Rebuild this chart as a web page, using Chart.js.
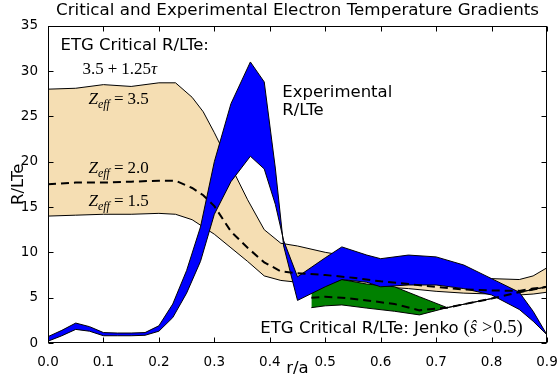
<!DOCTYPE html>
<html>
<head>
<meta charset="utf-8">
<script src="https://cdn.jsdelivr.net/npm/chart.js@4"></script>
<style>
  html, body { margin: 0; padding: 0; background: #fff; }
</style>
</head>
<body>
<canvas id="rlte" width="558" height="383"></canvas>
<script>
// experimental R/LTe band (two edges that cross near r/a = 0.44)
var expX = [0, 0.025, 0.05, 0.075, 0.1, 0.125, 0.15, 0.175, 0.2, 0.225, 0.25, 0.275, 0.3, 0.33, 0.365, 0.39, 0.41, 0.425, 0.45, 0.5, 0.53, 0.575, 0.6, 0.65, 0.7, 0.75, 0.8, 0.85, 0.875, 0.9];
var expOuter = [0.7, 1.4, 2.2, 1.8, 1.15, 1.1, 1.1, 1.15, 1.9, 4.3, 8.0, 12.8, 20.0, 26.4, 31.0, 28.8, 19.3, 10.7, 4.7, 6.2, 7.0, 6.7, 6.2, 6.4, 6.4, 6.0, 5.3, 3.7, 2.4, 0.9];
var expInner = [0.2, 0.8, 1.5, 1.3, 0.8, 0.8, 0.8, 0.85, 1.3, 2.8, 5.5, 9.0, 14.2, 17.8, 20.6, 19.2, 15.3, 11.3, 7.3, 9.4, 10.6, 9.7, 9.3, 9.7, 9.5, 8.6, 7.1, 5.6, 3.5, 0.9];

// ETG critical 3.5 + 1.25 tau for three Zeff values
var critX = [0, 0.05, 0.1, 0.15, 0.2, 0.23, 0.26, 0.28, 0.3, 0.33, 0.36, 0.39, 0.42, 0.45, 0.5, 0.55, 0.6, 0.65, 0.7, 0.75, 0.8, 0.85, 0.875, 0.9];
var zeff35 = [28.0, 28.1, 28.5, 28.3, 28.7, 28.7, 27.1, 25.5, 23.2, 19.5, 15.8, 12.5, 11.0, 10.7, 10.0, 9.5, 9.0, 8.5, 8.0, 7.5, 7.1, 7.0, 7.4, 8.3];
var zeff20 = [17.5, 17.7, 17.7, 17.8, 17.9, 17.9, 17.1, 16.3, 15.1, 12.3, 10.5, 8.9, 7.9, 7.7, 7.5, 7.2, 6.8, 6.5, 6.2, 5.9, 5.8, 5.75, 6.0, 6.2];
var zeff15 = [14.0, 14.1, 14.2, 14.2, 14.3, 14.2, 13.6, 12.8, 12.0, 10.5, 9.0, 7.4, 6.9, 6.7, 6.5, 6.4, 6.2, 6.0, 5.7, 5.5, 5.4, 5.3, 5.4, 5.6];

// Jenko critical gradient (s-hat > 0.5)
var jenkoX = [0.475, 0.5, 0.53, 0.575, 0.625, 0.67, 0.72, 0.8, 0.85, 0.9];
var jenkoHigh = [5.6, 6.4, 7.0, 6.5, 6.2, 5.1, 3.9, 4.9, 5.6, 6.2];
var jenkoLow = [3.9, 4.1, 4.2, 3.85, 3.5, 3.1, 3.9, 4.9, 5.6, 6.2];
var jenkoMid = [5.0, 5.1, 5.0, 4.7, 4.3, 3.6, 3.9, 4.9, 5.6, 6.2];

var xTicks = [0, 0.1, 0.2, 0.3, 0.4, 0.5, 0.6, 0.7, 0.8, 0.9];
var yTicks = [0, 5, 10, 15, 20, 25, 30, 35];

function pts(xs, ys) {
  return xs.map(function (x, i) { return { x: x, y: ys[i] }; });
}

var sans = '16.5px "DejaVu Sans"';
var serif = '17px "Liberation Serif"';
var serifIt = 'italic 17px "Liberation Serif"';
var subIt = 'italic 12px "Liberation Serif"';
var mathBig = '18.5px "Liberation Serif"';
var mathBigIt = 'italic 18.5px "Liberation Serif"';

function runs(ctx, x, y, list) {
  list.forEach(function (r) {
    ctx.font = r.f;
    ctx.fillText(r.t, x, y + (r.dy || 0));
    x += ctx.measureText(r.t).width + (r.sp || 0);
  });
}

function zeffLabel(val) {
  return [
    { t: 'Z', f: serifIt },
    { t: 'eff', f: subIt, dy: 4, sp: 4 },
    { t: '=', f: serif, sp: 4 },
    { t: val, f: serif }
  ];
}

var extras = {
  id: 'extras',
  afterDatasetsDraw: function (chart) {
    var ctx = chart.ctx, xs = chart.scales.x, ys = chart.scales.y;
    function px(v) { return xs.getPixelForValue(v); }
    function py(v) { return ys.getPixelForValue(v); }
    ctx.save();
    ctx.fillStyle = '#000';
    ctx.textBaseline = 'alphabetic';
    ctx.textAlign = 'left';
    runs(ctx, px(0.0225), py(32.3), [{ t: 'ETG Critical R/LTe:', f: sans }]);
    runs(ctx, px(0.062), py(29.7), [
      { t: '3.5', f: serif, sp: 4 },
      { t: '+', f: serif, sp: 4 },
      { t: '1.25', f: serif },
      { t: 'τ', f: serifIt }
    ]);
    runs(ctx, px(0.073), py(26.4), zeffLabel('3.5'));
    runs(ctx, px(0.073), py(18.8), zeffLabel('2.0'));
    runs(ctx, px(0.073), py(15.1), zeffLabel('1.5'));
    runs(ctx, px(0.4225), py(27.15), [{ t: 'Experimental', f: sans }]);
    runs(ctx, px(0.4225), py(25.2), [{ t: 'R/LTe', f: sans }]);
    runs(ctx, px(0.383), py(1.1), [
      { t: 'ETG Critical R/LTe: Jenko', f: sans, sp: 5 },
      { t: '(', f: mathBig },
      { t: 'ŝ', f: mathBigIt, sp: 5 },
      { t: '>', f: mathBig, sp: 1 },
      { t: '0.5)', f: mathBig }
    ]);
    ctx.restore();
  },
  afterDraw: function (chart) {
    var ctx = chart.ctx, a = chart.chartArea, xs = chart.scales.x, ys = chart.scales.y;
    var L = Math.round(a.left) + 0.5, R = Math.round(a.right) - 0.5;
    var T = Math.round(a.top) + 0.5, B = Math.round(a.bottom) - 0.5;
    ctx.save();
    ctx.strokeStyle = '#000';
    ctx.lineWidth = 1;
    ctx.beginPath();
    xTicks.forEach(function (v) {
      var x = Math.round(xs.getPixelForValue(v)) + 0.5;
      ctx.moveTo(x, B); ctx.lineTo(x, B - 5);
      ctx.moveTo(x, T); ctx.lineTo(x, T + 5);
    });
    yTicks.forEach(function (v) {
      var y = Math.round(ys.getPixelForValue(v)) + 0.5;
      ctx.moveTo(L, y); ctx.lineTo(L + 5, y);
      ctx.moveTo(R, y); ctx.lineTo(R - 5, y);
    });
    ctx.stroke();
    ctx.strokeRect(L, T, R - L, B - T);
    ctx.restore();
  }
};

var tickFont = { family: 'DejaVu Sans', size: 13.5 };
var titleFont = { family: 'DejaVu Sans', size: 16.7, weight: 'normal', lineHeight: 1 };
var axisFont = { family: 'DejaVu Sans', size: 16.5, weight: 'normal', lineHeight: 1 };

var ctx = document.getElementById('rlte').getContext('2d');
var chart = new Chart(ctx, {
  type: 'line',
  data: {
    datasets: [
      { label: 'Jenko', data: pts(jenkoX, jenkoMid), borderColor: '#000', borderWidth: 2, borderDash: [8, 5], fill: false },
      { label: 'Zeff=2.0', data: pts(critX, zeff20), borderColor: '#000', borderWidth: 2, borderDash: [8, 5], fill: false },
      { label: 'Experimental outer', data: pts(expX, expOuter), borderColor: '#000', borderWidth: 1, fill: false },
      { label: 'Experimental inner', data: pts(expX, expInner), borderColor: '#000', borderWidth: 1, backgroundColor: '#0000ff', fill: '-1' },
      { label: 'Jenko high', data: pts(jenkoX, jenkoHigh), borderColor: '#000', borderWidth: 1, fill: false },
      { label: 'Jenko low', data: pts(jenkoX, jenkoLow), borderColor: '#000', borderWidth: 1, backgroundColor: '#008000', fill: '-1' },
      { label: 'Zeff=3.5', data: pts(critX, zeff35), borderColor: '#000', borderWidth: 1, fill: false },
      { label: 'Zeff=1.5', data: pts(critX, zeff15), borderColor: '#000', borderWidth: 1, backgroundColor: '#f5deb3', fill: '-1' }
    ]
  },
  options: {
    responsive: false,
    animation: false,
    devicePixelRatio: 1,
    layout: { padding: { left: 0, right: 11, top: 0, bottom: 0 } },
    elements: { point: { radius: 0 }, line: { tension: 0 } },
    plugins: {
      legend: { display: false },
      tooltip: { enabled: false },
      title: {
        display: true,
        text: 'Critical and Experimental Electron Temperature Gradients',
        font: titleFont,
        color: '#000',
        fullSize: false,
        padding: { top: 2, bottom: 7 }
      }
    },
    scales: {
      x: {
        type: 'linear',
        min: 0,
        max: 0.9,
        grid: { display: false },
        border: { display: false },
        ticks: {
          stepSize: 0.1,
          autoSkip: false,
          maxRotation: 0,
          padding: 3,
          color: '#000',
          font: tickFont,
          callback: function (v) { return v.toFixed(1); }
        },
        title: { display: true, text: 'r/a', color: '#000', font: axisFont, padding: { top: 0, bottom: 6 } },
        afterFit: function (s) { s.height = 40; s.paddingLeft = 0; s.paddingRight = 0; }
      },
      y: {
        min: 0,
        max: 35,
        grid: { display: false },
        border: { display: false },
        ticks: { stepSize: 5, padding: 2, color: '#000', font: tickFont },
        title: { display: true, text: 'R/LTe', color: '#000', font: axisFont, padding: { top: 10.5, bottom: 0 } },
        afterFit: function (s) { s.width = 48; s.paddingTop = 0; s.paddingBottom = 0; }
      }
    }
  },
  plugins: [extras]
});
</script>
</body>
</html>
